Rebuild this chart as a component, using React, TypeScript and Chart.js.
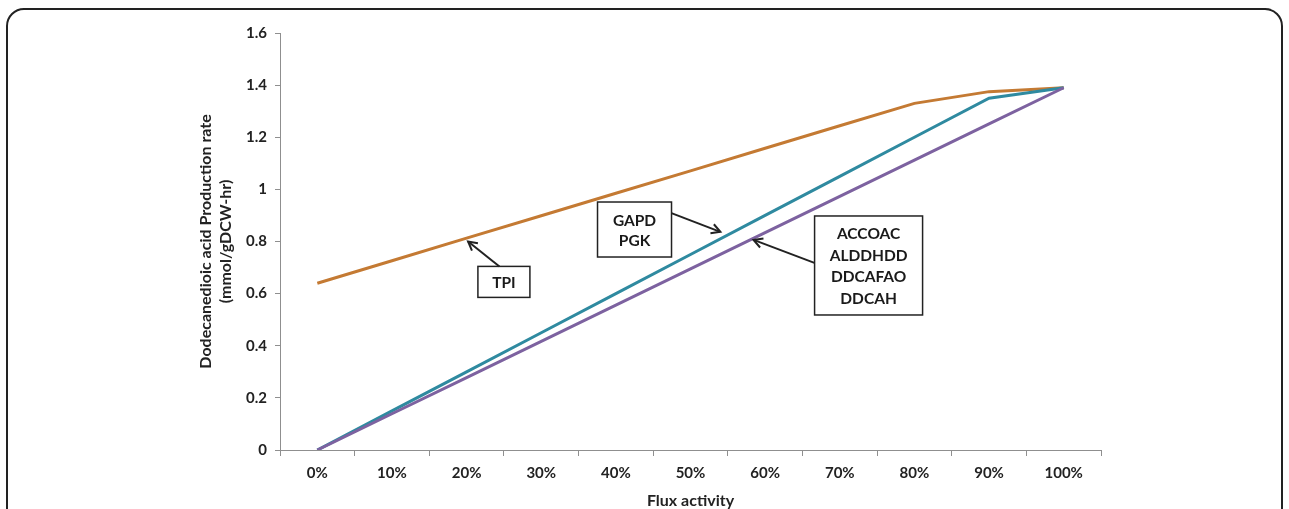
import { useEffect, useRef } from "react";
import { Chart, registerables } from "chart.js";

Chart.register(...registerables);

const categories = ["0%", "10%", "20%", "30%", "40%", "50%", "60%", "70%", "80%", "90%", "100%"];
const tpiValues = [0.64, 0.726, 0.813, 0.899, 0.985, 1.071, 1.158, 1.244, 1.33, 1.375, 1.39];
const gapdValues = [0, 0.15, 0.3, 0.45, 0.6, 0.75, 0.9, 1.05, 1.2, 1.35, 1.39];
const accoacValues = [0, 0.139, 0.278, 0.417, 0.556, 0.695, 0.834, 0.973, 1.112, 1.251, 1.39];
const tpiLabel = ["TPI"];
const gapdLabel = ["GAPD", "PGK"];
const accoacLabel = ["ACCOAC", "ALDDHDD", "DDCAFAO", "DDCAH"];

const FONT = "Lato, 'Open Sans', sans-serif";

type Note = {
  lines: string[];
  cx: number;
  cy: number;
  w: number;
  h: number;
  from: [number, number];
  to: [number, number];
};

const notes: Note[] = [
  { lines: tpiLabel, cx: 2.5, cy: 0.645, w: 52, h: 31, from: [2.44, 0.704], to: [2.02, 0.8] },
  { lines: gapdLabel, cx: 4.25, cy: 0.846, w: 74, h: 55, from: [4.745, 0.909], to: [5.4, 0.837] },
  { lines: accoacLabel, cx: 7.386, cy: 0.708, w: 108, h: 99, from: [6.66, 0.718], to: [5.845, 0.806] },
];

const notesPlugin = {
  id: "notes",
  afterDatasetsDraw(chart: any) {
    const { ctx, scales } = chart;
    const x = scales.x;
    const y = scales.y;
    ctx.save();
    notes.forEach((n) => {
      const cx = x.getPixelForValue(n.cx);
      const cy = y.getPixelForValue(n.cy);
      ctx.fillStyle = "#ffffff";
      ctx.fillRect(cx - n.w / 2, cy - n.h / 2, n.w, n.h);
      ctx.strokeStyle = "#222222";
      ctx.lineWidth = 1.5;
      ctx.strokeRect(cx - n.w / 2, cy - n.h / 2, n.w, n.h);
      ctx.fillStyle = "#1a1a1a";
      ctx.font = `bold 15.5px ${FONT}`;
      ctx.textAlign = "center";
      ctx.textBaseline = "middle";
      const lh = n.lines.length > 2 ? 21.5 : 20;
      const start = cy - ((n.lines.length - 1) * lh) / 2;
      n.lines.forEach((t, i) => ctx.fillText(t, cx, start + i * lh + 1));
      const fx = x.getPixelForValue(n.from[0]);
      const fy = y.getPixelForValue(n.from[1]);
      const tx = x.getPixelForValue(n.to[0]);
      const ty = y.getPixelForValue(n.to[1]);
      ctx.strokeStyle = "#222222";
      ctx.lineWidth = 2;
      ctx.beginPath();
      ctx.moveTo(fx, fy);
      ctx.lineTo(tx, ty);
      ctx.stroke();
      const ang = Math.atan2(ty - fy, tx - fx);
      const al = 10;
      const spread = 0.5;
      ctx.beginPath();
      ctx.moveTo(tx - al * Math.cos(ang - spread), ty - al * Math.sin(ang - spread));
      ctx.lineTo(tx, ty);
      ctx.lineTo(tx - al * Math.cos(ang + spread), ty - al * Math.sin(ang + spread));
      ctx.stroke();
    });
    ctx.restore();
  },
};

export default function App() {
  const ref = useRef<HTMLCanvasElement | null>(null);
  useEffect(() => {
    if (!ref.current) return;
    const chart = new Chart(ref.current, {
      type: "line",
      data: {
        labels: categories,
        datasets: [
          { label: "ACCOAC", data: accoacValues, borderColor: "#7d62a0", borderWidth: 3, pointRadius: 0, tension: 0 },
          { label: "GAPD", data: gapdValues, borderColor: "#2f8aa0", borderWidth: 3, pointRadius: 0, tension: 0 },
          { label: "TPI", data: tpiValues, borderColor: "#c47a33", borderWidth: 3, pointRadius: 0, tension: 0 },
        ],
      },
      plugins: [notesPlugin],
      options: {
        animation: false,
        responsive: false,
        maintainAspectRatio: false,
        layout: { padding: { left: 190, right: 188, top: 33, bottom: 0 } },
        plugins: { legend: { display: false }, tooltip: { enabled: false } },
        scales: {
          x: {
            type: "category",
            offset: true,
            grid: { display: true, offset: true, drawOnChartArea: false, drawTicks: true, tickLength: 6, color: "#8f8f8f" },
            border: { display: true, color: "#8f8f8f", width: 1 },
            ticks: { color: "#222222", font: { family: FONT, size: 15, weight: "bold" }, padding: 8, maxRotation: 0 },
            title: {
              display: true,
              text: "Flux activity",
              color: "#222222",
              font: { family: FONT, size: 16, weight: "bold", lineHeight: 1.0 },
              padding: { top: 0, bottom: 0 },
            },
            afterFit: (s: any) => {
              s.height = 59;
            },
          },
          y: {
            min: 0,
            max: 1.6,
            ticks: {
              stepSize: 0.2,
              color: "#222222",
              font: { family: FONT, size: 15, weight: "bold" },
              padding: 8,
              callback: (v: any) => String(Number(Number(v).toFixed(1))),
            },
            grid: { display: true, drawOnChartArea: false, drawTicks: true, tickLength: 5, color: "#8f8f8f" },
            border: { display: true, color: "#8f8f8f", width: 1 },
            title: {
              display: true,
              text: ["Dodecanedioic acid Production rate", "(mmol/gDCW-hr)"],
              color: "#222222",
              font: { family: FONT, size: 16, weight: "bold", lineHeight: 1.3 },
              padding: { top: 5, bottom: 0 },
            },
            afterFit: (s: any) => {
              s.width = 90;
            },
          },
        },
      },
    });
    return () => chart.destroy();
  }, []);
  return (
    <div style={{ position: "fixed", left: 0, top: 0, width: 1289, height: 509, overflow: "hidden", background: "#fff" }}>
      <div
        style={{
          position: "absolute",
          left: 6,
          top: 8,
          width: 1277,
          height: 540,
          border: "2px solid #222",
          borderRadius: 18,
          boxSizing: "border-box",
        }}
      />
      <canvas ref={ref} width={1289} height={509} style={{ position: "absolute", left: 0, top: 0, width: 1289, height: 509 }} />
    </div>
  );
}
